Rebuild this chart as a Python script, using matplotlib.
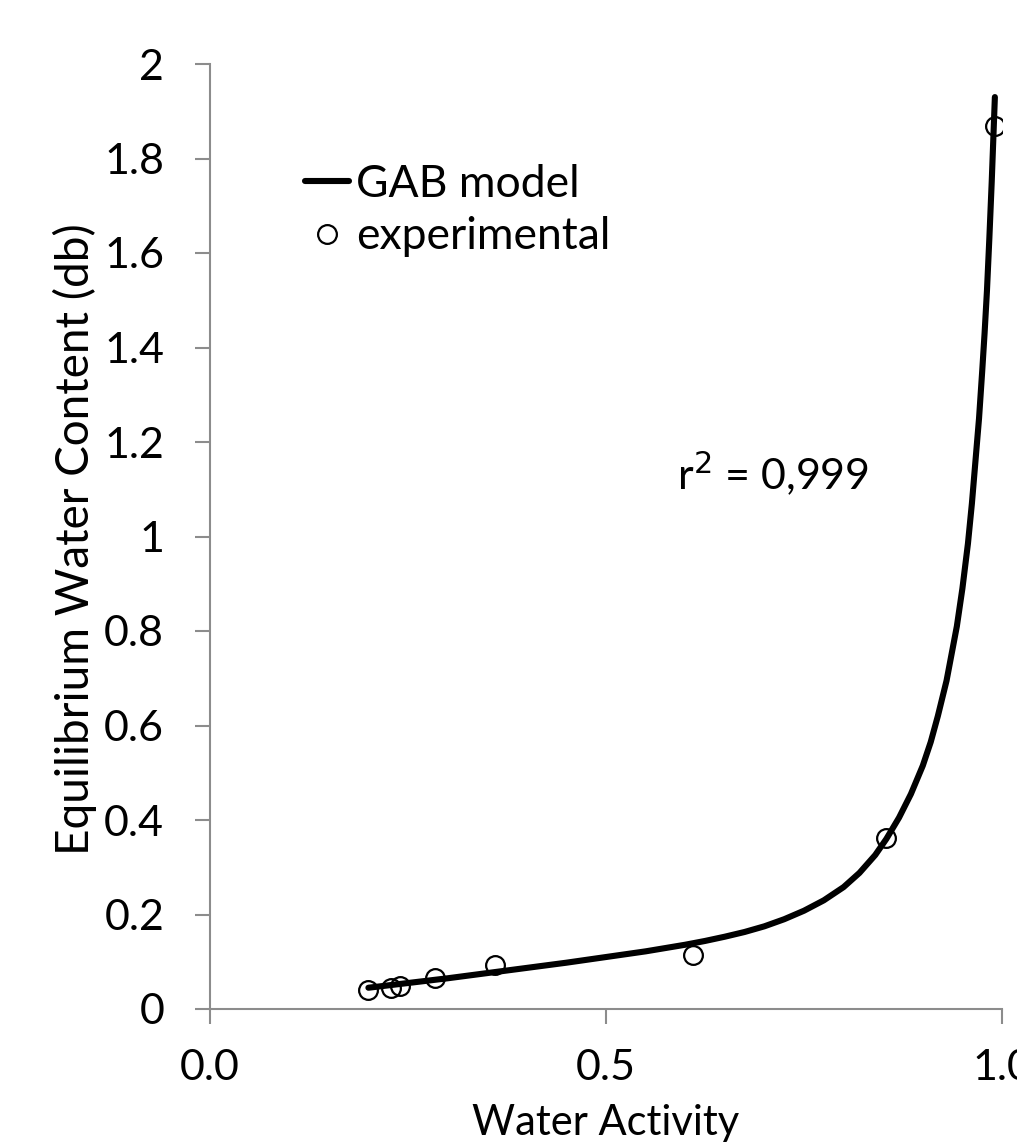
import matplotlib
matplotlib.use("Agg")
import matplotlib.pyplot as plt

# experimental points (water activity, equilibrium water content)
aw_exp = [0.199, 0.229, 0.240, 0.284, 0.360, 0.610, 0.854, 0.991]
we_exp = [0.040, 0.045, 0.049, 0.066, 0.093, 0.115, 0.361, 1.868]

# GAB model curve
aw_gab = [0.20, 0.25, 0.30, 0.35, 0.40, 0.45, 0.50, 0.55, 0.60, 0.625, 0.65, 0.675,
          0.70, 0.725, 0.75, 0.775, 0.80, 0.82, 0.84, 0.854, 0.87, 0.885, 0.90,
          0.91, 0.919, 0.93, 0.943, 0.95, 0.957, 0.962, 0.966, 0.971, 0.975,
          0.978, 0.981, 0.984, 0.987, 0.991]
we_gab = [0.045, 0.055, 0.065, 0.076, 0.087, 0.098, 0.110, 0.122, 0.136, 0.144, 0.153, 0.163,
          0.175, 0.190, 0.208, 0.230, 0.258, 0.288, 0.326, 0.360, 0.405, 0.455, 0.515,
          0.565, 0.620, 0.695, 0.810, 0.890, 0.985, 1.070, 1.150, 1.250, 1.350,
          1.430, 1.520, 1.630, 1.750, 1.930]

xticks = [0.0, 0.5, 1.0]
xticklabels = ["0.0", "0.5", "1.0"]
yticks = [0, 0.2, 0.4, 0.6, 0.8, 1.0, 1.2, 1.4, 1.6, 1.8, 2.0]
yticklabels = ["0", "0.2", "0.4", "0.6", "0.8", "1", "1.2", "1.4", "1.6", "1.8", "2"]

plt.rcParams['font.family'] = ['Lato', 'DejaVu Sans']

W, H = 1017, 1143
fig = plt.figure(figsize=(W / 100, H / 100), dpi=100)
ax = fig.add_axes([210 / W, 1 - 1009 / H, (1002 - 210) / W, (1009 - 64) / H])

ax.plot(aw_gab, we_gab, color="black", lw=4.4, solid_capstyle="round",
        solid_joinstyle="round", label="GAB model")
ax.plot(aw_exp, we_exp, "o", ms=13.5, mfc="none", mec="black", mew=1.6, label="experimental")

ax.set_xlim(0, 1.0)
ax.set_ylim(0, 2.0)
ax.set_xticks(xticks)
ax.set_xticklabels(xticklabels)
ax.set_yticks(yticks)
ax.set_yticklabels(yticklabels)

for s in ["top", "right"]:
    ax.spines[s].set_visible(False)
for s in ["left", "bottom"]:
    ax.spines[s].set_color("#8c8c8c")
    ax.spines[s].set_linewidth(1.5)
ax.tick_params(direction="out", length=11, width=1.5, color="#8c8c8c", labelsize=31)
ax.tick_params(axis="y", pad=22)
ax.tick_params(axis="x", pad=18)
for lab in ax.get_xticklabels():
    lab.set_clip_on(False)

ax.set_xlabel("Water Activity", fontsize=30, va="baseline")
ax.xaxis.set_label_coords(0.5, -0.1335)
ax.set_ylabel("Equilibrium Water Content (db)", fontsize=33, va="center")
ax.yaxis.set_label_coords(-0.170, 0.497)

ax.text(0.59, 1.098, "r$^2$ = 0,999", fontsize=31, va="baseline")

leg = ax.legend(loc="upper left", bbox_to_anchor=(0.097, 0.913), frameon=False,
                fontsize=32, handlelength=1.0, handletextpad=0.15, labelspacing=0.25,
                borderaxespad=0)

fig.savefig("out.png", dpi=100)
